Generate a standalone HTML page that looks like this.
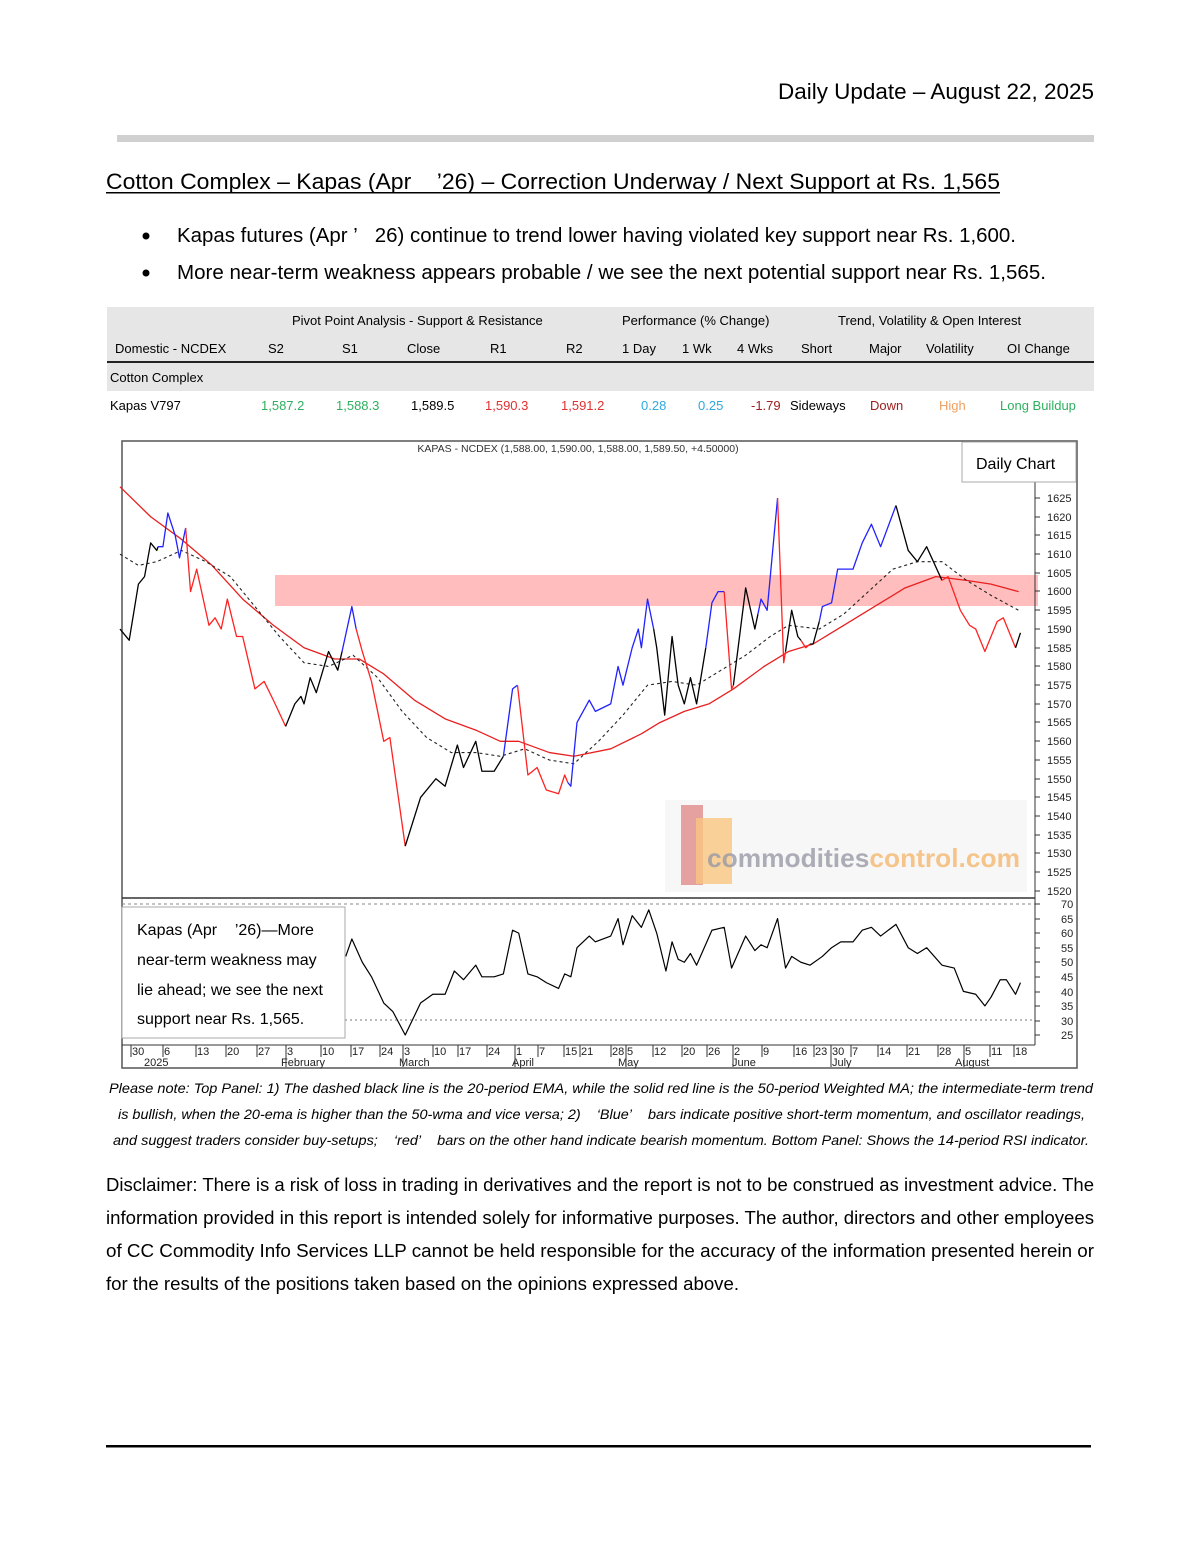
<!DOCTYPE html>
<html><head><meta charset="utf-8"><style>
html,body{margin:0;padding:0;background:#fff;}
svg{display:block;font-family:"Liberation Sans",sans-serif;}
</style></head><body>
<svg width="1200" height="1553" viewBox="0 0 1200 1553" xmlns="http://www.w3.org/2000/svg">
<rect width="1200" height="1553" fill="#fff"/>
<text x="1094" y="99" font-size="22" text-anchor="end" textLength="316" lengthAdjust="spacingAndGlyphs">Daily Update – August 22, 2025</text>
<rect x="117" y="135" width="977" height="7" fill="#d0d0d0"/>
<text x="106" y="189" font-size="22" textLength="894" lengthAdjust="spacingAndGlyphs">Cotton Complex – Kapas (Apr&#160;&#160;&#160;&#160;’26) – Correction Underway / Next Support at Rs. 1,565</text>
<rect x="106" y="192" width="894" height="1.5" fill="#000"/>
<circle cx="146" cy="236" r="3.5"/><circle cx="146" cy="273" r="3.5"/>
<text x="177" y="242" font-size="20" textLength="839" lengthAdjust="spacingAndGlyphs">Kapas futures (Apr ’&#160;&#160;&#160;26) continue to trend lower having violated key support near Rs. 1,600.</text>
<text x="177" y="279" font-size="20" textLength="869" lengthAdjust="spacingAndGlyphs">More near-term weakness appears probable / we see the next potential support near Rs. 1,565.</text>

<!-- table -->
<rect x="107" y="307" width="987" height="27" fill="#e6e6e6"/>
<rect x="107" y="334" width="987" height="28" fill="#e6e6e6"/>
<rect x="107" y="361" width="987" height="2" fill="#222"/>
<rect x="107" y="363" width="987" height="28" fill="#e6e6e6"/>
<g font-size="13">
<text x="292" y="325">Pivot Point Analysis - Support &amp; Resistance</text>
<text x="622" y="325">Performance (% Change)</text>
<text x="838" y="325">Trend, Volatility &amp; Open Interest</text>
<text x="115" y="353">Domestic - NCDEX</text>
<text x="268" y="353">S2</text><text x="342" y="353">S1</text><text x="407" y="353">Close</text>
<text x="490" y="353">R1</text><text x="566" y="353">R2</text><text x="622" y="353">1 Day</text>
<text x="682" y="353">1 Wk</text><text x="737" y="353">4 Wks</text><text x="801" y="353">Short</text>
<text x="869" y="353">Major</text><text x="926" y="353">Volatility</text><text x="1007" y="353">OI Change</text>
<text x="110" y="382">Cotton Complex</text>
<text x="110" y="410">Kapas V797</text>
<text x="261" y="410" fill="#2eb060">1,587.2</text><text x="336" y="410" fill="#2eb060">1,588.3</text>
<text x="411" y="410">1,589.5</text><text x="485" y="410" fill="#e03030">1,590.3</text>
<text x="561" y="410" fill="#e03030">1,591.2</text><text x="641" y="410" fill="#30a8e0">0.28</text>
<text x="698" y="410" fill="#30a8e0">0.25</text><text x="751" y="410" fill="#a02020">-1.79</text>
<text x="790" y="410">Sideways</text><text x="870" y="410" fill="#a02020">Down</text>
<text x="939" y="410" fill="#f0a060">High</text><text x="1000" y="410" fill="#2eb060">Long Buildup</text>
</g>

<!-- chart -->
<rect x="122" y="441" width="955" height="627" fill="#fff" stroke="#555" stroke-width="1.5"/>
<rect x="275" y="575" width="763" height="31" fill="#ffbdbd"/>
<text x="578" y="452" font-size="10.5" text-anchor="middle" fill="#333">KAPAS - NCDEX (1,588.00, 1,590.00, 1,588.00, 1,589.50, +4.50000)</text>
<!-- watermark -->
<rect x="665" y="800" width="362" height="92" fill="#f7f7f7"/>
<rect x="681" y="805" width="22" height="80" fill="#e08a8a" opacity="0.8"/>
<rect x="696" y="818" width="36" height="66" fill="#f7c680" opacity="0.8"/>
<text x="707" y="867" font-size="26" font-weight="bold" fill="#9a9aa6" opacity="0.8" textLength="313" lengthAdjust="spacingAndGlyphs">commodities<tspan fill="#f5b870">control.com</tspan></text>

<g fill="none" stroke-linejoin="round">
<polyline vector-effect="non-scaling-stroke" transform="matrix(0.6134 0 0 -3.743 120 6580.4)" stroke="#e82020" stroke-width="1.3" points="0,1628 50,1620 100,1614 150,1607 200,1598 250,1591 300,1585 350,1582 390,1582 430,1578 480,1571 530,1566 580,1563 620,1560 650,1560 700,1557 740,1556 800,1558 850,1562 880,1565 920,1568 960,1570 1000,1574 1050,1580 1090,1584 1130,1586 1180,1591 1240,1597 1280,1601 1330,1604 1380,1603 1420,1602 1465,1600"/>
<polyline vector-effect="non-scaling-stroke" transform="matrix(0.6134 0 0 -3.743 120 6580.4)" stroke="#222" stroke-width="1.1" stroke-dasharray="3,3" points="0,1610 30,1607 60,1608 100,1611 140,1608 180,1604 220,1596 260,1588 300,1581 340,1580 380,1583 420,1577 460,1568 500,1561 540,1557 580,1557 620,1556 660,1558 700,1555 740,1554 780,1560 820,1567 860,1575 900,1576 940,1575 980,1579 1020,1583 1060,1588 1090,1591 1140,1590 1180,1594 1220,1600 1260,1606 1300,1608 1340,1608 1380,1603 1420,1599 1465,1595"/>
<g transform="matrix(0.6134 0 0 -3.743 120 6580.4)" stroke-width="1.3">
<polyline vector-effect="non-scaling-stroke" stroke="#000" points="0,1590 15,1587 30,1602 40,1604 50,1613 60,1611 62,1612"/>
<polyline vector-effect="non-scaling-stroke" stroke="#22f" points="62,1612 70,1612 78,1621 90,1615 97,1609 107,1617"/>
<polyline vector-effect="non-scaling-stroke" stroke="#f22" points="107,1617 115,1600 125,1606 145,1591 155,1593 165,1590 175,1598 190,1588 200,1588 220,1574 235,1576 250,1571 270,1564"/>
<polyline vector-effect="non-scaling-stroke" stroke="#000" points="270,1564 285,1570 295,1572 300,1570 310,1577 320,1573 340,1584 355,1579 362,1584"/>
<polyline vector-effect="non-scaling-stroke" stroke="#22f" points="362,1584 378,1596 385,1590"/>
<polyline vector-effect="non-scaling-stroke" stroke="#f22" points="385,1590 395,1584 410,1576 430,1560 440,1561 465,1532"/>
<polyline vector-effect="non-scaling-stroke" stroke="#000" points="465,1532 490,1545 515,1550 530,1548 550,1559 560,1553 580,1560 590,1552 610,1552 625,1556"/>
<polyline vector-effect="non-scaling-stroke" stroke="#22f" points="625,1556 640,1574 648,1575"/>
<polyline vector-effect="non-scaling-stroke" stroke="#f22" points="648,1575 665,1551 680,1553 695,1547 715,1546 725,1551 730,1549"/>
<polyline vector-effect="non-scaling-stroke" stroke="#22f" points="730,1549 735,1548 745,1565 765,1571 775,1568 800,1570 812,1580 820,1575 835,1585 845,1590 850,1585 860,1598 870,1590"/>
<polyline vector-effect="non-scaling-stroke" stroke="#000" points="870,1590 875,1585 888,1567 900,1588 910,1575 920,1570 930,1577 940,1570 955,1585"/>
<polyline vector-effect="non-scaling-stroke" stroke="#22f" points="955,1585 965,1597 975,1600 985,1600"/>
<polyline vector-effect="non-scaling-stroke" stroke="#f22" points="985,1600 997,1574 1000,1575"/>
<polyline vector-effect="non-scaling-stroke" stroke="#000" points="1000,1575 1020,1601 1035,1590 1040,1594"/>
<polyline vector-effect="non-scaling-stroke" stroke="#22f" points="1040,1594 1045,1598 1055,1595 1072,1625"/>
<polyline vector-effect="non-scaling-stroke" stroke="#f22" points="1072,1625 1082,1581 1085,1584"/>
<polyline vector-effect="non-scaling-stroke" stroke="#000" points="1085,1584 1095,1595 1105,1588 1110,1587"/>
<polyline vector-effect="non-scaling-stroke" stroke="#f22" points="1110,1587 1118,1585 1125,1586"/>
<polyline vector-effect="non-scaling-stroke" stroke="#000" points="1125,1586 1130,1586 1140,1592"/>
<polyline vector-effect="non-scaling-stroke" stroke="#22f" points="1140,1592 1145,1596 1160,1597 1170,1606 1195,1606 1210,1613 1225,1618 1240,1612 1265,1623"/>
<polyline vector-effect="non-scaling-stroke" stroke="#000" points="1265,1623 1285,1611 1300,1608 1315,1612 1340,1603"/>
<polyline vector-effect="non-scaling-stroke" stroke="#f22" points="1340,1603 1350,1604 1370,1595 1385,1591 1395,1590 1410,1584 1430,1592 1440,1593 1460,1585"/>
<polyline vector-effect="non-scaling-stroke" stroke="#000" points="1460,1585 1468,1589"/>
</g>
<!-- RSI -->
<polyline vector-effect="non-scaling-stroke" transform="matrix(0.6134 0 0 -2.911 120 1107.8)" stroke="#000" stroke-width="1.2" points="368,52 378,58 395,50 410,45 430,36 445,33 465,25 490,36 510,39 530,39 545,47 560,44 580,49 590,45 610,45 625,46 640,61 650,60 665,46 680,45 695,43 715,41 725,46 735,45 745,55 765,59 775,57 800,59 812,65 820,56 835,66 850,62 862,68 875,60 890,47 900,57 910,51 920,50 930,53 940,49 965,61 985,62 997,48 1020,59 1035,54 1045,56 1055,55 1072,65 1085,48 1095,52 1110,50 1125,49 1145,52 1160,55 1175,57 1195,57 1210,61 1225,62 1240,59 1265,63 1285,55 1300,53 1315,55 1340,49 1360,48 1375,40 1395,39 1410,35 1420,38 1435,44 1445,44 1460,39 1468,43"/>
</g>
<line x1="122" y1="898" x2="1035" y2="898" stroke="#333" stroke-width="1.5"/>
<line x1="122" y1="904" x2="1035" y2="904" stroke="#888" stroke-dasharray="3,3"/>
<line x1="345" y1="1020" x2="1035" y2="1020" stroke="#777" stroke-dasharray="2,3"/>
<line x1="1035" y1="480" x2="1035" y2="1045" stroke="#333"/>
<g font-size="11" fill="#222">
<text x="1047" y="502">1625</text><text x="1047" y="521">1620</text><text x="1047" y="539">1615</text><text x="1047" y="558">1610</text><text x="1047" y="577">1605</text><text x="1047" y="595">1600</text><text x="1047" y="614">1595</text><text x="1047" y="633">1590</text><text x="1047" y="652">1585</text><text x="1047" y="670">1580</text><text x="1047" y="689">1575</text><text x="1047" y="708">1570</text><text x="1047" y="726">1565</text><text x="1047" y="745">1560</text><text x="1047" y="764">1555</text><text x="1047" y="783">1550</text><text x="1047" y="801">1545</text><text x="1047" y="820">1540</text><text x="1047" y="839">1535</text><text x="1047" y="857">1530</text><text x="1047" y="876">1525</text><text x="1047" y="895">1520</text>
<text x="1061" y="908">70</text><text x="1061" y="923">65</text><text x="1061" y="937">60</text><text x="1061" y="952">55</text><text x="1061" y="966">50</text><text x="1061" y="981">45</text><text x="1061" y="996">40</text><text x="1061" y="1010">35</text><text x="1061" y="1025">30</text><text x="1061" y="1039">25</text>
</g>
<g stroke="#333"><path d="M1035 498h5M1035 517h5M1035 535h5M1035 554h5M1035 573h5M1035 591h5M1035 610h5M1035 629h5M1035 648h5M1035 666h5M1035 685h5M1035 704h5M1035 722h5M1035 741h5M1035 760h5M1035 779h5M1035 797h5M1035 816h5M1035 835h5M1035 853h5M1035 872h5M1035 891h5M1035 904h5M1035 919h5M1035 933h5M1035 948h5M1035 962h5M1035 977h5M1035 992h5M1035 1006h5M1035 1021h5M1035 1035h5"/></g>
<!-- daily chart label -->
<rect x="962" y="442" width="114" height="40" fill="#fff" stroke="#aaa"/>
<text x="976" y="469" font-size="16">Daily Chart</text>
<!-- text box -->
<rect x="122" y="907" width="223" height="131" fill="#fff" stroke="#aaa"/>
<g font-size="16"><text x="137" y="935">Kapas (Apr&#160;&#160;&#160;&#160;’26)—More</text><text x="137" y="965">near-term weakness may</text><text x="137" y="995">lie ahead; we see the next</text><text x="137" y="1024">support near Rs. 1,565.</text></g>
<!-- date axis -->
<line x1="122" y1="1045" x2="1035" y2="1045" stroke="#333"/>
<g font-size="11" fill="#222">
<text x="132" y="1055">30</text><text x="164" y="1055">6</text><text x="197" y="1055">13</text><text x="227" y="1055">20</text><text x="258" y="1055">27</text><text x="287" y="1055">3</text><text x="322" y="1055">10</text><text x="352" y="1055">17</text><text x="381" y="1055">24</text><text x="404" y="1055">3</text><text x="434" y="1055">10</text><text x="459" y="1055">17</text><text x="488" y="1055">24</text><text x="516" y="1055">1</text><text x="539" y="1055">7</text><text x="565" y="1055">15</text><text x="581" y="1055">21</text><text x="612" y="1055">28</text><text x="627" y="1055">5</text><text x="654" y="1055">12</text><text x="683" y="1055">20</text><text x="708" y="1055">26</text><text x="734" y="1055">2</text><text x="763" y="1055">9</text><text x="795" y="1055">16</text><text x="815" y="1055">23</text><text x="832" y="1055">30</text><text x="852" y="1055">7</text><text x="879" y="1055">14</text><text x="908" y="1055">21</text><text x="939" y="1055">28</text><text x="965" y="1055">5</text><text x="991" y="1055">11</text><text x="1015" y="1055">18</text>
<text x="144" y="1066">2025</text><text x="281" y="1066">February</text><text x="399" y="1066">March</text><text x="512" y="1066">April</text><text x="618" y="1066">May</text><text x="732" y="1066">June</text><text x="832" y="1066">July</text><text x="955" y="1066">August</text>
</g>
<g stroke="#333"><path d="M131 1045v12M163 1045v12M196 1045v12M226 1045v12M257 1045v12M286 1045v22M321 1045v12M351 1045v12M380 1045v12M403 1045v22M433 1045v12M458 1045v12M487 1045v12M515 1045v22M538 1045v12M564 1045v12M580 1045v12M611 1045v12M626 1045v22M653 1045v12M682 1045v12M707 1045v12M733 1045v22M762 1045v12M794 1045v12M814 1045v12M831 1045v22M851 1045v12M878 1045v12M907 1045v12M938 1045v12M964 1045v22M990 1045v12M1014 1045v12"/></g>

<!-- caption -->
<g font-size="14" font-style="italic">
<text x="109" y="1093" textLength="984" lengthAdjust="spacingAndGlyphs">Please note: Top Panel: 1) The dashed black line is the 20-period EMA, while the solid red line is the 50-period Weighted MA; the intermediate-term trend</text>
<text x="118" y="1119" textLength="967" lengthAdjust="spacingAndGlyphs">is bullish, when the 20-ema is higher than the 50-wma and vice versa; 2)&#160;&#160;&#160;&#160;‘Blue’&#160;&#160;&#160;&#160;bars indicate positive short-term momentum, and oscillator readings,</text>
<text x="113" y="1145" textLength="976" lengthAdjust="spacingAndGlyphs">and suggest traders consider buy-setups;&#160;&#160;&#160;&#160;‘red’&#160;&#160;&#160;&#160;bars on the other hand indicate bearish momentum. Bottom Panel: Shows the 14-period RSI indicator.</text>
</g>
<g font-size="18">
<text x="106" y="1191" textLength="988" lengthAdjust="spacingAndGlyphs">Disclaimer: There is a risk of loss in trading in derivatives and the report is not to be construed as investment advice. The</text>
<text x="106" y="1224" textLength="988" lengthAdjust="spacingAndGlyphs">information provided in this report is intended solely for informative purposes. The author, directors and other employees</text>
<text x="106" y="1257" textLength="988" lengthAdjust="spacingAndGlyphs">of CC Commodity Info Services LLP cannot be held responsible for the accuracy of the information presented herein or</text>
<text x="106" y="1290" textLength="633" lengthAdjust="spacingAndGlyphs">for the results of the positions taken based on the opinions expressed above.</text>
</g>
<rect x="106" y="1445" width="985" height="2.5" fill="#000"/>
</svg>
</body></html>
